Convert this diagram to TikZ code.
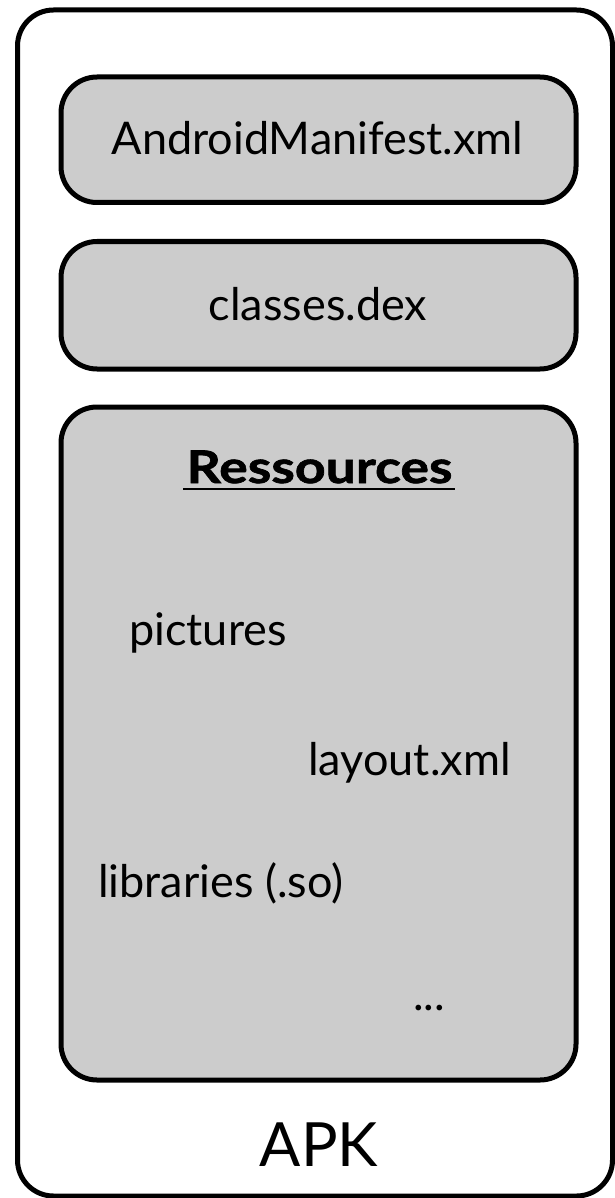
\documentclass[tikz,border=0pt]{standalone}
\usepackage{fontspec}
\setmainfont{Lato}
\newfontfamily\headfont{Lato}[UprightFont=*-Bold, FakeStretch=1.19, FakeBold=1.5]
\begin{document}
\begin{tikzpicture}[x=1pt,y=-1pt,
  frame/.style={draw=black, line width=5pt, rounded corners=36pt, inner sep=0pt},
  panel/.style={frame, fill=black!20, minimum width=515pt},
  txt/.style={inner sep=0pt, text=black, font=\fontsize{45}{54}\selectfont},
  heading/.style={inner sep=0pt, text=black, font=\fontsize{45}{54}\selectfont\headfont},
  bigtxt/.style={inner sep=0pt, text=black, font=\fontsize{61}{72}\selectfont},
]
\useasboundingbox (0,0) rectangle (614,1198);

% APK container
\node[frame, minimum width=595pt, minimum height=1186pt] (apk) at (315,603) {};

% contents of the archive
\node[panel, minimum height=125.5pt] (manifest) at (318.5,139.75) {};
\node[panel, minimum height=127.5pt] (dex) at (318.5,305.25) {};
\node[panel, minimum height=673pt] (res) at (318.5,743.5) {};

\node[txt, anchor=base] (manifesttxt) at (317.5,155) {AndroidManifest.xml};
\node[txt, anchor=base] (dextxt) at (318,320) {classes.dex};

\node[heading, anchor=base] (restxt) at (319.5,483) {Ressources};
\draw[line width=2pt] ([xshift=-3pt,yshift=-6pt]restxt.base west) -- ([xshift=2pt,yshift=-6pt]restxt.base east);

\node[txt, anchor=base west] (pictures) at (129,645) {pictures};
\node[txt, anchor=base west] (layout) at (308,775) {layout.xml};
\node[txt, anchor=base west] (libs) at (98,897) {libraries (.so)};
\node[txt, anchor=base west] (more) at (413,1010) {...};

\node[bigtxt, anchor=base] (apktxt) at (319,1166) {APK};
\end{tikzpicture}
\end{document}
